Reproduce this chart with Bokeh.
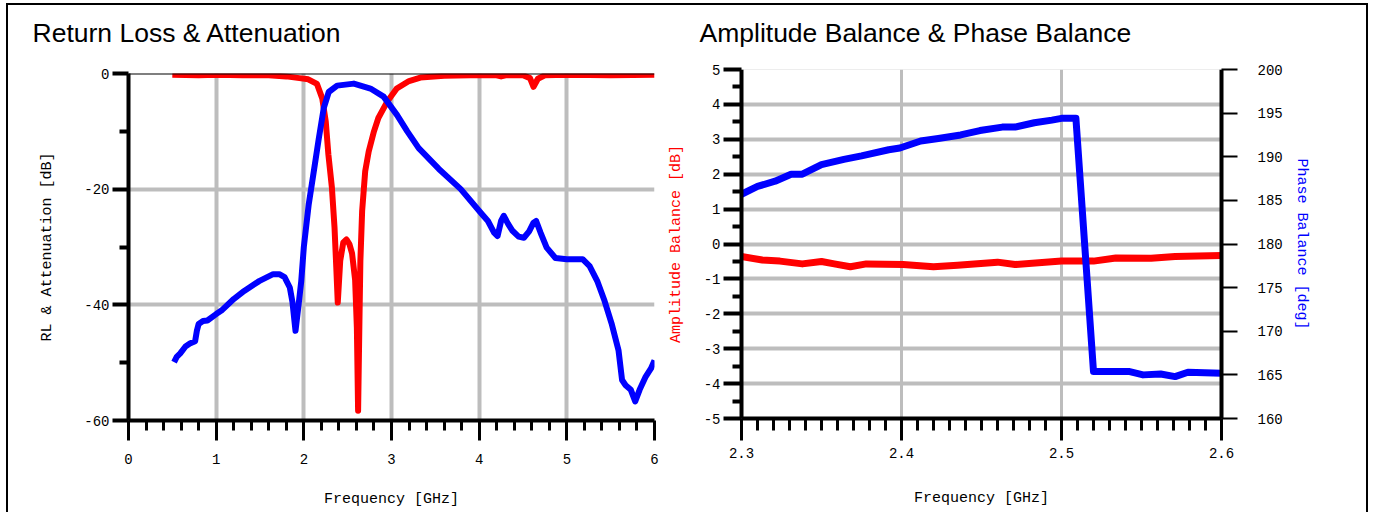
from bokeh.plotting import figure
from bokeh.models import FixedTicker, LinearAxis, Range1d, Span
from bokeh.layouts import row
from bokeh.embed import file_html
from bokeh.resources import INLINE

# ---------------- data: Return Loss & Attenuation ----------------
rl_freq = [0.50, 0.80, 1.00, 1.30, 1.60, 1.80, 1.95, 2.05, 2.15, 2.21, 2.25, 2.28, 2.32,
           2.35, 2.37, 2.387, 2.415, 2.45, 2.486, 2.52, 2.55, 2.585, 2.605, 2.619, 2.635,
           2.645, 2.665, 2.70, 2.74, 2.80, 2.85, 2.95, 3.06, 3.20, 3.33, 3.60, 3.90, 4.20,
           4.25, 4.30, 4.50, 4.58, 4.62, 4.67, 4.75, 5.00, 5.50, 6.00]
rl_db = [-0.2, -0.3, -0.2, -0.3, -0.3, -0.5, -0.8, -1.0, -1.8, -4.3, -8.3, -14.0, -19.7,
         -26.6, -33.5, -39.6, -32.4, -29.2, -28.7, -29.5, -31.1, -35.7, -44.0, -58.3, -42.0,
         -32.4, -23.8, -16.9, -13.5, -10.0, -7.7, -4.9, -2.6, -1.3, -0.7, -0.4, -0.3, -0.3,
         -0.5, -0.3, -0.3, -0.8, -2.3, -0.9, -0.3, -0.2, -0.3, -0.2]

att_freq = [0.52, 0.55, 0.59, 0.65, 0.70, 0.76, 0.78, 0.80, 0.85, 0.90, 1.00, 1.06, 1.20,
            1.32, 1.49, 1.65, 1.72, 1.78, 1.84, 1.87, 1.905, 1.94, 1.97, 2.00, 2.056, 2.113,
            2.17, 2.227, 2.284, 2.38, 2.57, 2.76, 2.91, 3.064, 3.18, 3.31, 3.54, 3.79, 4.03,
            4.10, 4.17, 4.21, 4.25, 4.28, 4.33, 4.38, 4.45, 4.51, 4.57, 4.62, 4.65, 4.70,
            4.77, 4.87, 5.00, 5.18, 5.26, 5.35, 5.43, 5.51, 5.59, 5.63, 5.67, 5.73, 5.78,
            5.83, 5.90, 5.96, 6.00]
att_db = [-49.9, -49.0, -48.4, -47.2, -46.7, -46.3, -44.5, -43.3, -42.8, -42.7, -41.6, -41.0,
          -39.0, -37.6, -35.9, -34.7, -34.7, -35.2, -37.0, -39.5, -44.5, -40.0, -36.0, -30.0,
          -22.6, -17.0, -11.3, -6.0, -3.2, -2.1, -1.75, -2.6, -4.0, -7.2, -10.0, -12.9, -16.5,
          -20.0, -24.3, -25.5, -27.5, -28.1, -25.5, -24.6, -26.0, -27.2, -28.2, -28.4, -27.3,
          -25.8, -25.5, -27.5, -30.1, -31.9, -32.1, -32.1, -33.3, -36.0, -39.3, -43.2, -47.9,
          -53.0, -53.9, -54.7, -56.7, -54.7, -52.4, -51.0, -49.6]

# ---------------- data: Amplitude Balance & Phase Balance ----------------
ab_freq = [2.300, 2.313, 2.324, 2.338, 2.350, 2.358, 2.368, 2.378, 2.401, 2.420, 2.435,
           2.460, 2.471, 2.500, 2.520, 2.534, 2.556, 2.571, 2.600]
ab_db = [-0.36, -0.46, -0.49, -0.57, -0.50, -0.57, -0.65, -0.57, -0.59, -0.65, -0.61,
         -0.52, -0.59, -0.49, -0.49, -0.40, -0.41, -0.36, -0.33]

pb_freq = [2.300, 2.310, 2.321, 2.331, 2.338, 2.350, 2.364, 2.375, 2.392, 2.399, 2.412,
           2.423, 2.437, 2.449, 2.463, 2.471, 2.483, 2.494, 2.500, 2.509, 2.520, 2.534,
           2.542, 2.551, 2.562, 2.571, 2.579, 2.600]
pb_deg = [185.7, 186.6, 187.2, 188.0, 188.0, 189.1, 189.7, 190.1, 190.8, 191.0, 191.8,
          192.1, 192.5, 193.0, 193.4, 193.4, 193.9, 194.2, 194.4, 194.4, 165.4, 165.4,
          165.4, 165.0, 165.1, 164.8, 165.3, 165.2]

# ---------------- ticks ----------------
p1_xticks = [0, 1, 2, 3, 4, 5, 6]
p1_xminor = [round(i * 0.2, 1) for i in range(31) if i % 5 != 0]
p1_yticks = [-60, -40, -20, 0]
p1_yminor = [-50, -30, -10]
p2_xticks = [2.3, 2.4, 2.5, 2.6]
p2_xminor = [round(2.3 + i * 0.01, 2) for i in range(31) if i % 10 != 0]
p2_yticks = list(range(-5, 6))
p2_yminor = [i + 0.5 for i in range(-5, 5)]
p2_rticks = list(range(160, 201, 5))

TICK_FONT = "Liberation Mono"
TITLE_FONT = "Liberation Sans"
GRID = "#bdbdbd"
RED = "#ff0000"
BLUE = "#0000ff"


def style_axis(ax, tick_out, minor_out, line_w=4, tick_w=4, minor_w=4):
    ax.axis_line_width = line_w
    ax.axis_line_color = "black"
    ax.major_tick_line_width = tick_w
    ax.major_tick_line_color = "black"
    ax.major_tick_out = tick_out
    ax.major_tick_in = 0
    ax.minor_tick_line_width = minor_w
    ax.minor_tick_line_color = "black"
    ax.minor_tick_out = minor_out
    ax.minor_tick_in = 0
    ax.major_label_text_font = TICK_FONT
    ax.major_label_text_font_size = "14px"
    ax.major_label_text_color = "black"
    ax.axis_label_text_font = TICK_FONT
    ax.axis_label_text_font_size = "15px"
    ax.axis_label_text_font_style = "normal"
    ax.axis_label_text_color = "black"


def style_title(p, text, offset, standoff):
    p.title.text = text
    p.title.align = "left"
    p.title.vertical_align = "top"
    p.title.offset = offset
    p.title.text_font = TITLE_FONT
    p.title.text_font_size = "26.5px"
    p.title.text_font_style = "normal"
    p.title.text_color = "black"
    p.title.standoff = standoff


# ---------------- left figure ----------------
p1 = figure(width=652, height=519, x_range=Range1d(0, 6), y_range=Range1d(-60, 0),
            output_backend="svg", toolbar_location=None,
            min_border_left=120, min_border_right=6, min_border_top=79, min_border_bottom=92,
            styles={"margin-top": "-12px"})
p1.outline_line_color = None
p1.background_fill_color = "white"
p1.border_fill_alpha = 0
style_title(p1, "Return Loss & Attenuation", -96, 48)

p1.xaxis.ticker = FixedTicker(ticks=p1_xticks, minor_ticks=p1_xminor)
p1.yaxis.ticker = FixedTicker(ticks=p1_yticks, minor_ticks=p1_yminor)
p1.yaxis.major_label_overrides = {v: str(v) for v in p1_yticks}
style_axis(p1.xaxis[0], 20, 10, tick_w=3, minor_w=3)
style_axis(p1.yaxis[0], 16, 9)
p1.xaxis.major_label_standoff = 13
p1.yaxis.major_label_standoff = 3
p1.xaxis.axis_label = "Frequency [GHz]"
p1.yaxis.axis_label = "RL & Attenuation [dB]"
p1.xaxis.axis_label_standoff = 24
p1.yaxis.axis_label_standoff = 25

p1.xgrid.ticker = FixedTicker(ticks=[1, 2, 3, 4, 5])
p1.ygrid.ticker = FixedTicker(ticks=[-20, -40])
p1.grid.grid_line_color = GRID
p1.grid.grid_line_width = 4

p1.add_layout(Span(location=0, dimension="width", line_color="black", line_width=2))

p1.line(rl_freq, rl_db, line_color=RED, line_width=6, line_join="round")
p1.line(att_freq, att_db, line_color=BLUE, line_width=6, line_join="round")

# ---------------- right figure ----------------
p2 = figure(width=706, height=521, x_range=Range1d(2.3, 2.6), y_range=Range1d(-5, 5),
            output_backend="svg", toolbar_location=None,
            min_border_left=81, min_border_right=145, min_border_top=79, min_border_bottom=92,
            styles={"margin-top": "-16px"})
p2.outline_line_color = None
p2.background_fill_color = "white"
p2.border_fill_alpha = 0
p2.extra_y_ranges = {"phase": Range1d(160, 200)}
style_title(p2, "Amplitude Balance & Phase Balance", -42, 40)

p2.xaxis.ticker = FixedTicker(ticks=p2_xticks, minor_ticks=p2_xminor)
p2.yaxis.ticker = FixedTicker(ticks=p2_yticks, minor_ticks=p2_yminor)
p2.yaxis.major_label_overrides = {v: str(v) for v in p2_yticks}
style_axis(p2.xaxis[0], 22, 12, tick_w=3, minor_w=3)
style_axis(p2.yaxis[0], 18, 9)
p2.xaxis.major_label_standoff = 7
p2.yaxis.major_label_standoff = 3
p2.xaxis.axis_label = "Frequency [GHz]"
p2.yaxis.axis_label = "Amplitude Balance [dB]"
p2.yaxis.axis_label_text_color = RED
p2.xaxis.axis_label_standoff = 29
p2.yaxis.axis_label_standoff = 16

rax = LinearAxis(y_range_name="phase", ticker=FixedTicker(ticks=p2_rticks, minor_ticks=[]))
style_axis(rax, 16, 0, line_w=4, tick_w=2, minor_w=2)
rax.major_label_standoff = 20
rax.axis_label = "Phase Balance [deg]"
rax.axis_label_text_color = BLUE
rax.axis_label_standoff = 7
p2.add_layout(rax, "right")

p2.xgrid.ticker = FixedTicker(ticks=[2.4, 2.5])
p2.ygrid.ticker = FixedTicker(ticks=[-4, -3, -2, -1, 0, 1, 2, 3, 4])
p2.grid.grid_line_color = GRID
p2.grid.grid_line_width = 4
p2.xgrid.grid_line_width = 3

p2.add_layout(Span(location=5, dimension="width", line_color="#dcdcdc", line_width=1))

p2.line(ab_freq, ab_db, line_color=RED, line_width=7, line_join="round")
p2.line(pb_freq, pb_deg, y_range_name="phase", line_color=BLUE, line_width=7, line_join="round")

layout = row(p1, p2, styles={"border-top": "2px solid black",
                             "border-left": "2px solid black",
                             "border-right": "2px solid black",
                             "margin-left": "6px",
                             "margin-top": "3px"})

open("out.html", "w").write(file_html(layout, INLINE))
